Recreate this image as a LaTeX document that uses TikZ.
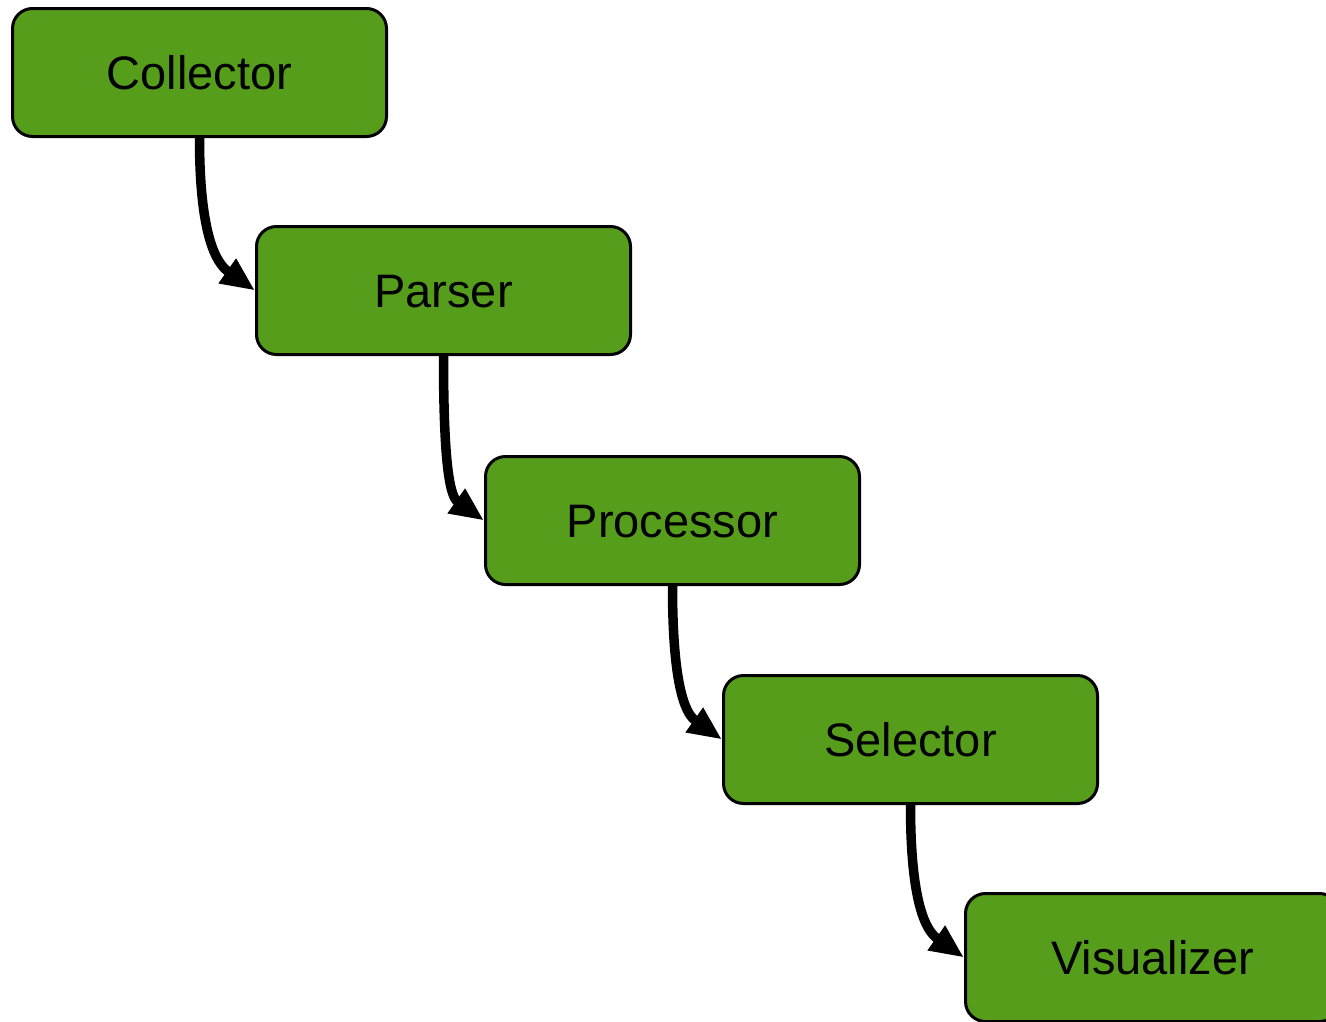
\documentclass[tikz,border=0pt]{standalone}
\usepackage{fontspec}
\setmainfont{Liberation Sans}
\usetikzlibrary{arrows.meta,calc}
\definecolor{stagegreen}{RGB}{87,157,28}
\tikzset{
  stage/.style={draw=black, line width=3pt, fill=stagegreen, rounded corners=20pt,
    minimum width=374pt, minimum height=128pt, inner sep=0pt,
    font=\fontsize{47}{56}\selectfont, text height=33.6pt, text depth=0pt},
  flow/.style={line width=9.5pt, -{Triangle[length=34pt,width=28pt]}}
}
\begin{document}
\begin{tikzpicture}[x=1pt,y=-1pt]
  \useasboundingbox (0,0) rectangle (1326,1021);
  \clip (0,0) rectangle (1326,1021);
  \node[stage] (collector)  at (199.5,72.5)  {Collector};
  \node[stage] (parser)     at (443.5,290.5) {Parser};
  \node[stage] (processor)  at (672.5,520.5) {Processor};
  \node[stage] (selector)   at (910.5,739.5) {Selector};
  \node[stage] (visualizer) at (1152.5,957.5) {Visualizer};
  % curved hand-offs from each stage to the next
  \foreach \a/\b in {collector/parser, parser/processor, processor/selector, selector/visualizer}{
    \draw[flow] (\a.south) .. controls ++(0,110) and ($(\b.west)+(-34,-24)$) .. (\b.west);
  }
\end{tikzpicture}
\end{document}
